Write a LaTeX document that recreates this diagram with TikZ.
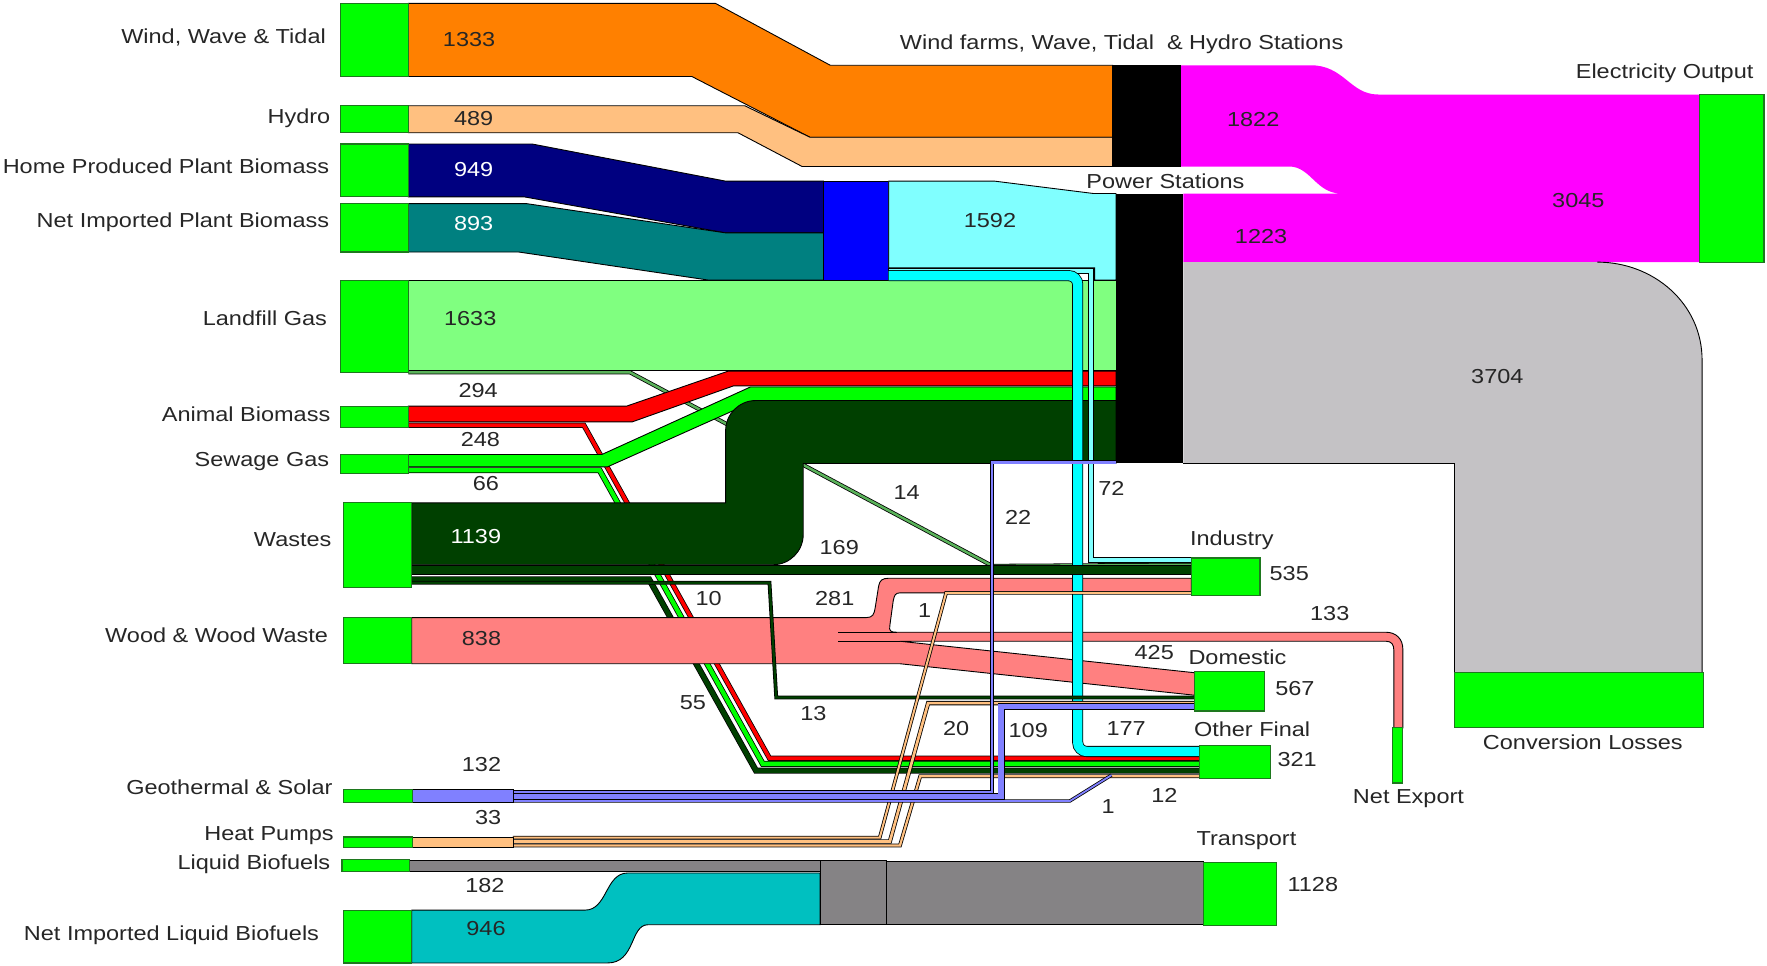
\documentclass[tikz,border=0pt]{standalone}
\usepackage{fontspec}
\setmainfont[FakeStretch=1.16]{Liberation Sans}
\usetikzlibrary{positioning}
\definecolor{mgreen}{RGB}{0,255,0}
\definecolor{mgreenline}{RGB}{30,120,30}
\definecolor{morange}{RGB}{255,128,0}
\definecolor{mhydro}{RGB}{255,192,128}
\definecolor{mnavy}{RGB}{0,0,128}
\definecolor{mteal}{RGB}{0,128,128}
\definecolor{mblue}{RGB}{0,0,255}
\definecolor{mcyanlt}{RGB}{128,255,255}
\definecolor{mcyan}{RGB}{0,255,255}
\definecolor{mlandfill}{RGB}{128,255,128}
\definecolor{mred}{RGB}{255,0,0}
\definecolor{mwaste}{RGB}{0,64,0}
\definecolor{mpink}{RGB}{255,128,128}
\definecolor{mpurple}{RGB}{128,128,255}
\definecolor{mgrey}{RGB}{133,131,133}
\definecolor{mliq}{RGB}{0,192,192}
\definecolor{mmagenta}{RGB}{255,0,255}
\definecolor{mloss}{RGB}{196,194,197}
\newcommand{\lblfont}{\fontsize{9}{10}\selectfont}
\tikzset{
  gbox/.style={fill=mgreen, draw=mgreenline, line width=0.5pt},
  band/.style={draw=black, line width=0.4pt},
  flow/.style={draw=black, line width=0.35pt, double=#1},
  lbl/.style={inner sep=0pt, font=\lblfont, text=black!85},
  src/.style={lbl, anchor=east},
  num/.style={lbl}
}

\begin{document}
\begin{tikzpicture}[x=0.5pt, y=-0.5pt]
\useasboundingbox (0,0) rectangle (1570.7,857.8);

\draw [band, fill=morange] (363,3) -- (636,3) -- (738,58) -- (989,58) -- (989,122) -- (720,122) -- (615,68) -- (363,68) -- cycle;
\draw [band, fill=mhydro] (363,94) -- (662,94) -- (720,122) -- (989,122) -- (989,148) -- (713,148) -- (656,118) -- (363,118) -- cycle;
\fill [black] (989,58) rectangle (1050,148);
\fill [mmagenta] (1050,58) -- (1165,58) .. controls (1195,58) and (1200,84) .. (1225,84) -- (1511,84) -- (1511,233) -- (1052,233) -- (1052,172) -- (1192,172) .. controls (1170,172) and (1165,148) .. (1146,148) -- (1050,148) -- cycle;
\draw [gbox] (1511,84) rectangle (1568,233);

\draw [band, fill=mnavy] (363,128) -- (473,128) -- (645,161) -- (732,161) -- (732,207) -- (645,207) -- (466,175) -- (363,175) -- cycle;
\draw [band, fill=mteal] (363,181) -- (468,181) -- (645,207) -- (732,207) -- (732,249) -- (630,249) -- (461,224) -- (363,224) -- cycle;
\draw [band, fill=mblue] (732,161) rectangle (790,250);
\draw [band, fill=mcyanlt] (790,161) -- (884,161) -- (972,172) -- (992,172) -- (992,249) -- (973,249) -- (973,238) -- (790,238) -- cycle;

\draw [band, fill=mlandfill] (363,249) rectangle (992,329);
\draw [flow=mlandfill!70!black, double distance=1.1pt] (363,331) -- (560,331) -- (882,503) -- (1059,502);
\draw [flow=mred, double distance=1.6pt] (363,378) -- (519,378) -- (684,674) -- (1066,674);
\draw [flow=mgreen, double distance=1.9pt] (363,418) -- (533,418) -- (678,679) -- (1066,679);
\draw [flow=mwaste, double distance=2pt] (366,515) -- (577,515) -- (672,685) -- (1066,685);

\draw [band, fill=mred] (363,361) -- (557,361) -- (647,330) -- (992,330) -- (992,343) -- (652,343) -- (562,375) -- (363,375) -- cycle;
\draw [band, fill=mgreen] (363,404) -- (535,404) -- (667,344) -- (992,344) -- (992,356) -- (672,356) -- (540,415) -- (363,415) -- cycle;
\draw [band, fill=mwaste] (366,447) -- (645,447) -- (645,383) .. controls (645,368) and (657,356) .. (672,356) -- (992,356) -- (992,412) -- (714,412) -- (714,475) .. controls (714,490) and (702,502) .. (687,502) -- (366,502) -- cycle;

\fill [black] (992,172) rectangle (1052,412);
\fill [mloss] (1052,233) -- (1420,233) .. controls (1470,233) and (1513,270) .. (1513,320) -- (1513,598) -- (1293,598) -- (1293,412) -- (1052,412) -- cycle;
\draw [line width=0.4pt] (1420,233) .. controls (1470,233) and (1513,270) .. (1513,320) -- (1513,598);
\draw [line width=0.4pt] (1293,598) -- (1293,412) -- (1052,412);
\draw [gbox] (1293,598) rectangle (1514,647);

\draw [band, fill=mpink] (366,549) -- (770,549) .. controls (776,549) and (777,546) .. (778,540) -- (781,521) .. controls (782,516) and (784,514) .. (790,514) -- (1059,514) -- (1059,527) -- (800,527) .. controls (796,527) and (795,529) .. (794,534) -- (791,556) .. controls (790,561) and (792,562) .. (797,562) -- (1232,562) .. controls (1241,562) and (1247,568) .. (1247,577) -- (1247,647) -- (1239,647) -- (1239,578) .. controls (1239,573) and (1237,570) .. (1232,570) -- (800,570) -- (1062,598) -- (1062,618) -- (800,590) -- (366,590) -- cycle;
\draw [line width=0.4pt] (745,562) -- (797,562);
\draw [line width=0.4pt] (745,570) -- (800,570);

\draw [flow=mcyanlt, double distance=1.8pt] (790,241) -- (970,241) -- (970,498) -- (1059,498);
\draw [flow=mcyan, double distance=4.2pt, rounded corners=4pt] (790,245) -- (958,245) -- (958,668) -- (1066,668);

\draw [band, fill=mwaste] (366,503) rectangle (1059,511);
\draw [flow=mwaste, double distance=1pt] (366,518) -- (684,518) -- (690,620) -- (1062,620);

\draw [band, fill=mgrey] (364,765) rectangle (729,775);
\draw [band, fill=mliq] (366,809) -- (520,809) .. controls (540,809) and (538,776) .. (558,776) -- (729,776) -- (729,822) -- (576,822) .. controls (560,822) and (565,856) .. (540,856) -- (366,856) -- cycle;
\draw [band, fill=mgrey] (729,765) rectangle (788,822);
\draw [band, fill=mgrey] (788,766) rectangle (1070,822);

\draw [flow=mhydro, double distance=0.9pt] (456,744.5) -- (782,744.5) -- (841,527) -- (1059,527);
\draw [flow=mhydro, double distance=1.2pt] (456,748) -- (791,748) -- (825,625) -- (1062,625);
\draw [flow=mhydro, double distance=1pt] (456,751.5) -- (800,751.5) -- (818,690) -- (1066,690);
\draw [flow=mpurple, double distance=1.1pt] (456,704) -- (882,704) -- (882,411) -- (992,411);
\draw [flow=mpurple, double distance=2.6pt] (456,708) -- (890,708) -- (890,628) -- (1062,628);
\draw [flow=mpurple, double distance=0.8pt] (456,712) -- (951,712) -- (988,689);
\draw [band, fill=mpurple] (367,702) rectangle (456,713);
\draw [band, fill=mhydro] (367,744) rectangle (456,753);

\draw [gbox] (303,3) rectangle (363,68);
\draw [gbox] (303,94) rectangle (363,118);
\draw [gbox] (303,128) rectangle (363,175);
\draw [gbox] (303,181) rectangle (363,224);
\draw [gbox] (303,249) rectangle (363,331);
\draw [gbox] (303,361) rectangle (363,380);
\draw [gbox] (303,404) rectangle (363,421);
\draw [gbox] (305,447) rectangle (366,522);
\draw [gbox] (305,549) rectangle (366,590);
\draw [gbox] (305,702) rectangle (367,713);
\draw [gbox] (305,744) rectangle (367,753);
\draw [gbox] (304,764) rectangle (364,775);
\draw [gbox] (305,809) rectangle (366,856);
\draw [gbox] (1059,496) rectangle (1120,529);
\draw [gbox] (1062,597) rectangle (1124,632);
\draw [gbox] (1066,663) rectangle (1129,692);
\draw [gbox] (1070,767) rectangle (1135,823);
\draw [gbox] (1238,647) rectangle (1247,696);

\node [src] (lwind) at (290,33) {Wind, Wave \& Tidal};
\node [src] (lhydro) at (294,105) {Hydro};
\node [src] (lhome) at (293,148) {Home Produced Plant Biomass};
\node [src] (limport) at (293,198) {Net Imported Plant Biomass};
\node [src] (llandfill) at (291,283) {Landfill Gas};
\node [src] (lanimal) at (294,368) {Animal Biomass};
\node [src] (lsewage) at (293,410) {Sewage Gas};
\node [src] (lwastes) at (295,480) {Wastes};
\node [src] (lwood) at (292,565) {Wood \& Wood Waste};
\node [src] (lgeo) at (296,700) {Geothermal \& Solar};
\node [src] (lheat) at (297,743) {Heat Pumps};
\node [src] (lliquid) at (294,768) {Liquid Biofuels};
\node [src] (lnetliq) at (284,831) {Net Imported Liquid Biofuels};

\node [lbl] (lwindst) at (997,39) {Wind farms, Wave, Tidal \ \& Hydro Stations};
\node [lbl] (lpower) at (1036,161) {Power Stations};
\node [lbl, anchor=east] (lelec) at (1559,65) {Electricity Output};
\node [lbl] (lloss) at (1407,660) {Conversion Losses};
\node [lbl] (lexport) at (1252,710) {Net Export};
\node [lbl] (lindustry) at (1095,480) {Industry};
\node [lbl] (ldomestic) at (1100,584) {Domestic};
\node [lbl] (lother) at (1113,648) {Other Final};
\node [lbl] (ltransport) at (1108,747) {Transport};

\node [num] (v1333) at (417,35) {1333};
\node [num] (v489) at (421,105) {489};
\node [num, text=white] (v949) at (421,151) {949};
\node [num, text=white] (v893) at (421,199) {893};
\node [num] (v1633) at (418,283) {1633};
\node [num] (v294) at (425,347) {294};
\node [num] (v248) at (427,391) {248};
\node [num] (v66) at (432,430) {66};
\node [num, text=white] (v1139) at (423,477) {1139};
\node [num] (v838) at (428,568) {838};
\node [num] (v132) at (428,680) {132};
\node [num] (v33) at (434,727) {33};
\node [num] (v182) at (431,787) {182};
\node [num] (v946) at (432,825) {946};
\node [num] (v1822) at (1114,106) {1822};
\node [num] (v1223) at (1121,210) {1223};
\node [num] (v3045) at (1403,178) {3045};
\node [num] (v3704) at (1331,335) {3704};
\node [num] (v1592) at (880,196) {1592};
\node [num] (v14) at (806,438) {14};
\node [num] (v22) at (905,460) {22};
\node [num] (v72) at (988,434) {72};
\node [num] (v169) at (746,487) {169};
\node [num] (v10) at (630,532) {10};
\node [num] (v281) at (742,532) {281};
\node [num] (v1a) at (822,543) {1};
\node [num] (v133) at (1182,545) {133};
\node [num] (v425) at (1026,580) {425};
\node [num] (v55) at (616,625) {55};
\node [num] (v13) at (723,634) {13};
\node [num] (v20) at (850,648) {20};
\node [num] (v109) at (914,649) {109};
\node [num] (v177) at (1001,648) {177};
\node [num] (v1b) at (985,717) {1};
\node [num] (v12) at (1035,707) {12};
\node [num] (v535) at (1146,510) {535};
\node [num] (v567) at (1151,612) {567};
\node [num] (v321) at (1153,675) {321};
\node [num] (v1128) at (1167,786) {1128};
\end{tikzpicture}
\end{document}
